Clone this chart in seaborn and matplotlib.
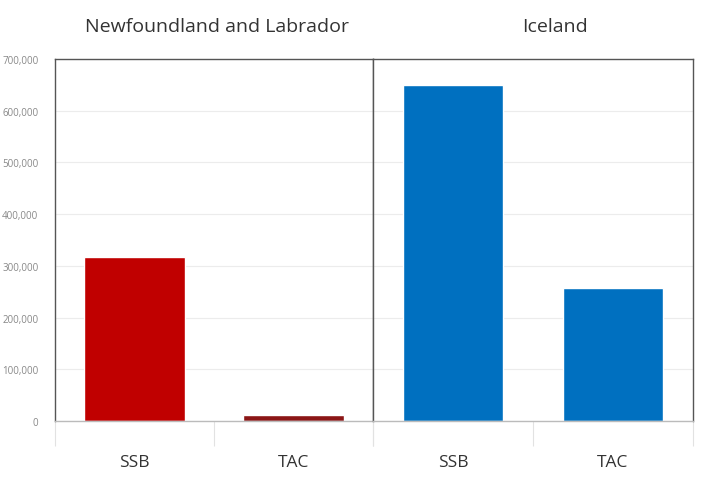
import matplotlib
matplotlib.use("Agg")
import matplotlib.pyplot as plt
import seaborn as sns
import pandas as pd

regions = ["Newfoundland and Labrador", "Iceland"]
measures = ["SSB", "TAC"]
nl_values = [317000, 12000]
ic_values = [650000, 257000]
nl_colors = ["#c00000", "#8b1616"]
ic_colors = ["#0070c0", "#0070c0"]
y_ticks = [0, 100000, 200000, 300000, 400000, 500000, 600000, 700000]
y_labels = ["0", "100,000", "200,000", "300,000", "400,000", "500,000", "600,000", "700,000"]

sns.set_theme(style="white")
plt.rcParams["font.family"] = ["Open Sans", "DejaVu Sans"]

fig = plt.figure(figsize=(7.02, 4.81), dpi=100)
W, H = 702, 481
left, right, top, bottom = 55, 693, 60, 422
mid = 373
ax1 = fig.add_axes([left / W, 1 - bottom / H, (mid - left) / W, (bottom - top) / H])
ax2 = fig.add_axes([mid / W, 1 - bottom / H, (right - mid) / W, (bottom - top) / H], sharey=ax1)

for ax, vals, cols, title, tx in [(ax1, nl_values, nl_colors, regions[0], 0.51),
                                  (ax2, ic_values, ic_colors, regions[1], 0.57)]:
    df = pd.DataFrame({"measure": measures, "value": vals})
    sns.barplot(data=df, x="measure", y="value", hue="measure", palette=cols,
                width=0.63, legend=False, ax=ax, saturation=1)
    ax.set_xlim(-0.5, 1.5)
    ax.set_ylim(0, 700000)
    ax.set_xlabel("")
    ax.set_ylabel("")
    ax.set_yticks(y_ticks)
    ax.grid(axis="y", color="#ececec", linewidth=0.8)
    ax.set_axisbelow(True)
    for s in ax.spines.values():
        s.set_color("#555555")
        s.set_linewidth(1.0)
    ax.spines["bottom"].set_color("#bbbbbb")
    ax.set_xticks([0, 1])
    ax.set_xticklabels(measures)
    ax.tick_params(axis="x", which="major", bottom=False, length=0, pad=24,
                   labelsize=12.5, labelcolor="#333333")
    ax.set_xticks([-0.5, 0.5, 1.5], minor=True)
    ax.tick_params(axis="x", which="minor", bottom=True, length=18, color="#e2e2e2", width=0.8)
    ax.set_title(title, fontsize=14, color="#333333", pad=20, x=tx)

ax1.set_yticklabels(y_labels)
ax1.tick_params(axis="y", length=0, pad=12, labelsize=7, labelcolor="#888888")
ax2.tick_params(axis="y", left=False, labelleft=False)
ax2.spines["left"].set_color("#555555")

fig.savefig("out.png", dpi=100)
